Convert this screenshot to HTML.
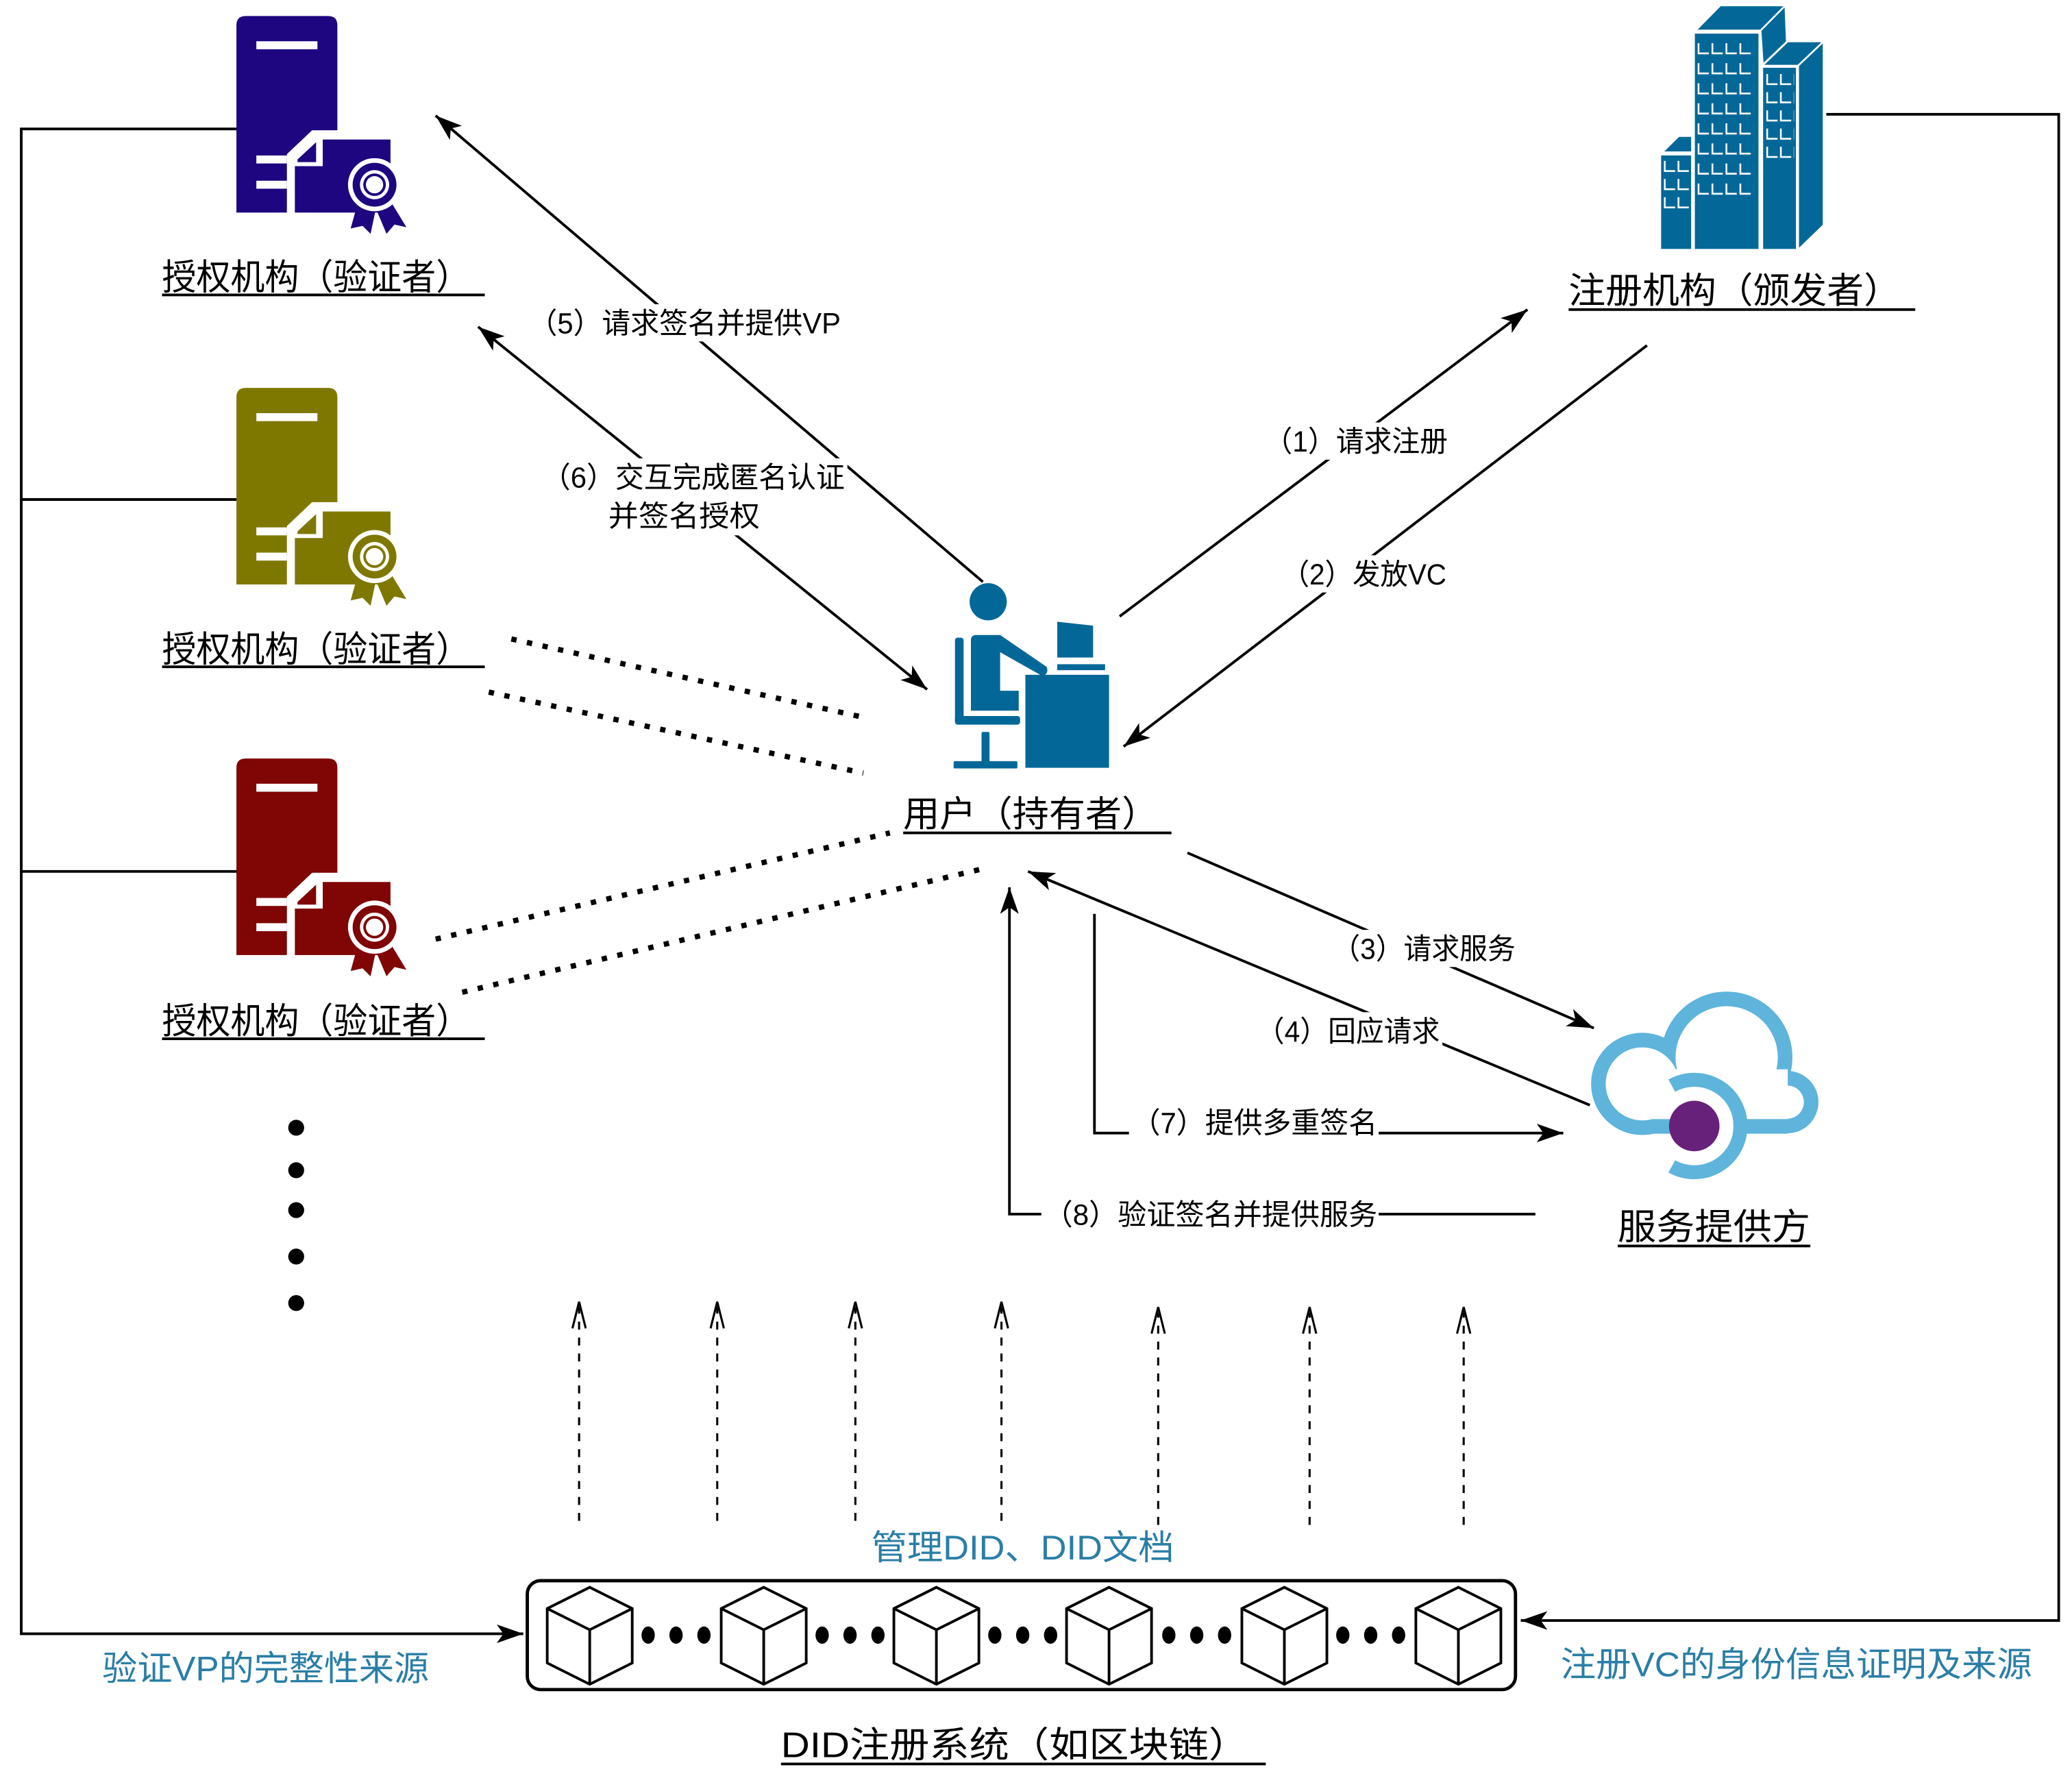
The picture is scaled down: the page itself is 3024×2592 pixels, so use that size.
<!DOCTYPE html>
<html><head><meta charset="utf-8"><style>
html,body{margin:0;padding:0;background:#fff}
svg{display:block}
text{font-family:"Liberation Sans","Noto Sans CJK SC",sans-serif}
</style></head><body>
<svg width="3024" height="2592" viewBox="0 0 1560 1337" xmlns="http://www.w3.org/2000/svg">
<defs>
<marker id="ah" markerUnits="userSpaceOnUse" markerWidth="22" markerHeight="16" refX="20" refY="7" orient="auto-start-reverse" viewBox="0 0 22 16">
<path d="M0,0 L20,7 L0,14 L5,7 z" fill="#000"/>
</marker>
<g id="srv">
<path d="M0,7 Q0,0 7,0 H69 Q76,0 76,7 V86 H57 L38,104 V148 H0 Z"/>
<path d="M65,93 H116 V148 H44 V113 H65 Z"/>
<path d="M46,108 L60,95 V110 H46 Z"/>
<rect x="15" y="19" width="46" height="6" fill="#fff"/>
<rect x="15" y="105" width="23" height="6" fill="#fff"/>
<rect x="15" y="124" width="23" height="6" fill="#fff"/>
<polygon points="91,142 86,160 95,158 101,164 105,145"/>
<polygon points="105,145 113,164 119,157 128,159 117,141"/>
<circle cx="104" cy="127" r="20" fill="#fff"/>
<circle cx="104" cy="127" r="16.5"/>
<circle cx="104" cy="127" r="11" fill="#fff"/>
<circle cx="104" cy="127" r="8.5"/>
<circle cx="104" cy="127" r="6.5" fill="#fff"/>
</g>
<pattern id="wm" x="1278" y="32.4" width="10.5" height="15.1" patternUnits="userSpaceOnUse"><path d="M0.8,0 V7.7 H8.6" stroke="#fff" stroke-width="1.3" fill="none"/></pattern>
<pattern id="wr" x="1329.7" y="55.6" width="10.3" height="13.7" patternUnits="userSpaceOnUse"><path d="M0.8,0 V7.7 H8.6" stroke="#fff" stroke-width="1.3" fill="none"/></pattern>
<pattern id="wl" x="1252.6" y="121" width="10.3" height="13.7" patternUnits="userSpaceOnUse"><path d="M0.8,0 V7.7 H8.6" stroke="#fff" stroke-width="1.3" fill="none"/></pattern>
</defs>

<!-- left connector -->
<g stroke="#000" stroke-width="2" fill="none">
<path d="M179,97 H16 V1230 H394" marker-end="url(#ah)"/>
<path d="M179,376 H16"/>
<path d="M179,656 H16"/>
<path d="M1375,86 H1550 V1220 H1145" marker-end="url(#ah)"/>
</g>

<!-- servers -->
<use href="#srv" x="178" y="12" fill="#1e0680"/>
<use href="#srv" x="178" y="292" fill="#7f7800"/>
<use href="#srv" x="178" y="571" fill="#800505"/>

<!-- building -->
<g fill="#036897" stroke="#fff" stroke-width="1.3">
<polygon points="1345.3,31.4 1344.2,4 1325.5,22.9 1327.2,48.6"/>
<polygon points="1276.6,22.9 1295.2,4 1344.2,4 1325.5,22.9"/>
<rect x="1275.4" y="24.6" width="49.2" height="163.4"/>
<polygon points="1326.8,49.4 1345.9,31.1 1373,31.1 1353.8,49.4"/>
<rect x="1326.8" y="50.3" width="26" height="137.7"/>
<polygon points="1353.8,49.4 1373,31.1 1373,169.5 1353.8,188"/>
<polygon points="1251.5,114.6 1263.9,102.3 1273.9,102.3 1273.9,114.6"/>
<rect x="1250" y="116.3" width="23.9" height="71.7"/>
</g>
<rect x="1278" y="32.4" width="42" height="120" fill="url(#wm)"/>
<rect x="1329.7" y="55.6" width="21" height="68" fill="url(#wr)"/>
<rect x="1252.6" y="121" width="21" height="41" fill="url(#wl)"/>

<!-- user -->
<g fill="#036897">
<circle cx="744" cy="453" r="14"/>
<rect x="719" y="480" width="6.5" height="65" rx="2"/>
<rect x="719" y="539" width="49" height="6.5" rx="2"/>
<path d="M731,482 Q731,478 735,478 H753 L788,502 Q790,507 785,509 L753,491 V520 H767 V535 H731 Z"/>
<rect x="739" y="551" width="6" height="24" rx="1"/>
<rect x="718" y="573" width="48" height="5.5" rx="1"/>
<rect x="772" y="508" width="63" height="70"/>
<path d="M796,468 L823,471 V495 H796 Z"/>
<rect x="796" y="500" width="36" height="4.5"/>
</g>

<!-- cloud -->
<g fill="#5eb4db">
<circle cx="1300" cy="796" r="49.5"/>
<circle cx="1236.4" cy="816" r="38.5"/>
<circle cx="1345.6" cy="829.7" r="23.5"/>
<rect x="1236" y="800" width="110" height="53.5"/>
</g>
<g fill="#fff">
<circle cx="1300" cy="796" r="38.5"/>
<circle cx="1236.4" cy="816" r="27.5"/>
<circle cx="1345.6" cy="829.7" r="12.5"/>
<rect x="1236" y="805" width="110" height="37.5"/>
</g>
<path d="M1263.8,826.4 A24.3,24.3 0 1 1 1263.8,869" stroke="#fff" stroke-width="10.6" fill="none"/>
<path d="M1258.7,817.3 A34.8,34.8 0 1 1 1258.7,878.1" stroke="#5eb4db" stroke-width="10.5" fill="none"/>
<circle cx="1275.6" cy="847.7" r="19" fill="#68217a"/>

<!-- blockchain -->
<rect x="397" y="1190" width="744" height="82" rx="10" fill="none" stroke="#000" stroke-width="2.5"/>
<g stroke="#000" stroke-width="2" fill="#fff" id="cubes">
<path d="M444,1195 L476,1211 V1252 L444,1268 L412,1252 V1211 Z M412,1211 L444,1227 L476,1211 M444,1227 V1268"/>
<path d="M575,1195 L607,1211 V1252 L575,1268 L543,1252 V1211 Z M543,1211 L575,1227 L607,1211 M575,1227 V1268"/>
<path d="M705,1195 L737,1211 V1252 L705,1268 L673,1252 V1211 Z M673,1211 L705,1227 L737,1211 M705,1227 V1268"/>
<path d="M835,1195 L867,1211 V1252 L835,1268 L803,1252 V1211 Z M803,1211 L835,1227 L867,1211 M835,1227 V1268"/>
<path d="M967,1195 L999,1211 V1252 L967,1268 L935,1252 V1211 Z M935,1211 L967,1227 L999,1211 M967,1227 V1268"/>
<path d="M1098,1195 L1130,1211 V1252 L1098,1268 L1066,1252 V1211 Z M1066,1211 L1098,1227 L1130,1211 M1098,1227 V1268"/>
</g>
<g fill="#000">
<ellipse cx="488" cy="1231" rx="5" ry="6.5"/><ellipse cx="509" cy="1231" rx="5" ry="6.5"/><ellipse cx="530" cy="1231" rx="5" ry="6.5"/>
<ellipse cx="619" cy="1231" rx="5" ry="6.5"/><ellipse cx="640" cy="1231" rx="5" ry="6.5"/><ellipse cx="661" cy="1231" rx="5" ry="6.5"/>
<ellipse cx="749" cy="1231" rx="5" ry="6.5"/><ellipse cx="770" cy="1231" rx="5" ry="6.5"/><ellipse cx="791" cy="1231" rx="5" ry="6.5"/>
<ellipse cx="880" cy="1231" rx="5" ry="6.5"/><ellipse cx="901" cy="1231" rx="5" ry="6.5"/><ellipse cx="922" cy="1231" rx="5" ry="6.5"/>
<ellipse cx="1011" cy="1231" rx="5" ry="6.5"/><ellipse cx="1032" cy="1231" rx="5" ry="6.5"/><ellipse cx="1053" cy="1231" rx="5" ry="6.5"/>
<circle cx="223" cy="849" r="6"/><circle cx="223" cy="881" r="6"/><circle cx="223" cy="911" r="6"/><circle cx="223" cy="946" r="6"/><circle cx="223" cy="981" r="6"/>
</g>

<!-- dashed up arrows -->
<g stroke="#000" stroke-width="1.6" fill="none">
<path d="M436,1145 V984" stroke-dasharray="6 6"/><path d="M431,1000 L436,980 L441,1000"/>
<path d="M540,1145 V984" stroke-dasharray="6 6"/><path d="M535,1000 L540,980 L545,1000"/>
<path d="M644,1145 V984" stroke-dasharray="6 6"/><path d="M639,1000 L644,980 L649,1000"/>
<path d="M754,1145 V984" stroke-dasharray="6 6"/><path d="M749,1000 L754,980 L759,1000"/>
<path d="M872,1148 V988" stroke-dasharray="6 6"/><path d="M867,1004 L872,984 L877,1004"/>
<path d="M986,1148 V988" stroke-dasharray="6 6"/><path d="M981,1004 L986,984 L991,1004"/>
<path d="M1102,1148 V988" stroke-dasharray="6 6"/><path d="M1097,1004 L1102,984 L1107,1004"/>
</g>

<!-- dotted -->
<g stroke="#000" stroke-width="4" stroke-dasharray="4 8" fill="none">
<path d="M385,481 L650,540"/>
<path d="M368,521 L650,582"/>
<path d="M328,707 L670,627"/>
<path d="M348,747 L740,654"/>
</g>

<!-- arrows -->
<g stroke="#000" stroke-width="2" fill="none">
<path d="M740,438 L328,87" marker-end="url(#ah)"/>
<path d="M698,519 L360,246" marker-end="url(#ah)" marker-start="url(#ah)"/>
<path d="M843,464 L1150,233" marker-end="url(#ah)"/>
<path d="M1240,260 L846,562" marker-end="url(#ah)"/>
<path d="M894,642 L1200,774" marker-end="url(#ah)"/>
<path d="M1197,832 L774,656" marker-end="url(#ah)"/>
<path d="M824,688 V853 H1177" marker-end="url(#ah)"/>
<path d="M1156,914 H760 V668" marker-end="url(#ah)"/>
</g>

<!-- label backgrounds -->
<g fill="#fff">
<rect x="396" y="229" width="240" height="28"/>
<rect x="406" y="345" width="232" height="58"/>
<rect x="950" y="318" width="142" height="28"/>
<rect x="963" y="418" width="128" height="28"/>
<rect x="1001" y="700" width="142" height="28"/>
<rect x="944" y="762" width="142" height="28"/>
<rect x="850" y="831" width="188" height="28"/>
<rect x="784" y="900" width="254" height="28"/>
</g>

<!-- labels -->
<g font-size="27" fill="#000">
<text x="122" y="218" textLength="232" lengthAdjust="spacingAndGlyphs">授权机构（验证者）</text>
<text x="122" y="498" textLength="232" lengthAdjust="spacingAndGlyphs">授权机构（验证者）</text>
<text x="122" y="778" textLength="232" lengthAdjust="spacingAndGlyphs">授权机构（验证者）</text>
<text x="1181" y="228" textLength="250" lengthAdjust="spacingAndGlyphs">注册机构（颁发者）</text>
<text x="680" y="622" textLength="192" lengthAdjust="spacingAndGlyphs">用户（持有者）</text>
<text x="1218" y="933" textLength="145" lengthAdjust="spacingAndGlyphs">服务提供方</text>
<text x="588" y="1323" textLength="352" lengthAdjust="spacingAndGlyphs">DID注册系统（如区块链）</text>
</g>
<g stroke="#000" stroke-width="2">
<path d="M122,222 H365"/><path d="M122,502 H365"/><path d="M122,782 H365"/>
<path d="M1181,233 H1442"/><path d="M680,627 H882"/><path d="M1218,938 H1363"/><path d="M588,1328 H953"/>
</g>
<g font-size="26" fill="#2a7ea6">
<text x="656" y="1174" textLength="228" lengthAdjust="spacingAndGlyphs">管理DID、DID文档</text>
<text x="77" y="1265" textLength="246" lengthAdjust="spacingAndGlyphs">验证VP的完整性来源</text>
<text x="1175" y="1262" textLength="355" lengthAdjust="spacingAndGlyphs">注册VC的身份信息证明及来源</text>
</g>
<g font-size="22" fill="#000">
<text x="398" y="251" textLength="235" lengthAdjust="spacingAndGlyphs">（5）请求签名并提供VP</text>
<text x="408" y="367" textLength="228" lengthAdjust="spacingAndGlyphs">（6）交互完成匿名认证</text>
<text x="458" y="396" textLength="114" lengthAdjust="spacingAndGlyphs">并签名授权</text>
<text x="952" y="340" textLength="138" lengthAdjust="spacingAndGlyphs">（1）请求注册</text>
<text x="965" y="440" textLength="124" lengthAdjust="spacingAndGlyphs">（2）发放VC</text>
<text x="1003" y="722" textLength="138" lengthAdjust="spacingAndGlyphs">（3）请求服务</text>
<text x="946" y="784" textLength="138" lengthAdjust="spacingAndGlyphs">（4）回应请求</text>
<text x="852" y="853" textLength="185" lengthAdjust="spacingAndGlyphs">（7）提供多重签名</text>
<text x="786" y="922" textLength="251" lengthAdjust="spacingAndGlyphs">（8）验证签名并提供服务</text>
</g>
</svg>
</body></html>
